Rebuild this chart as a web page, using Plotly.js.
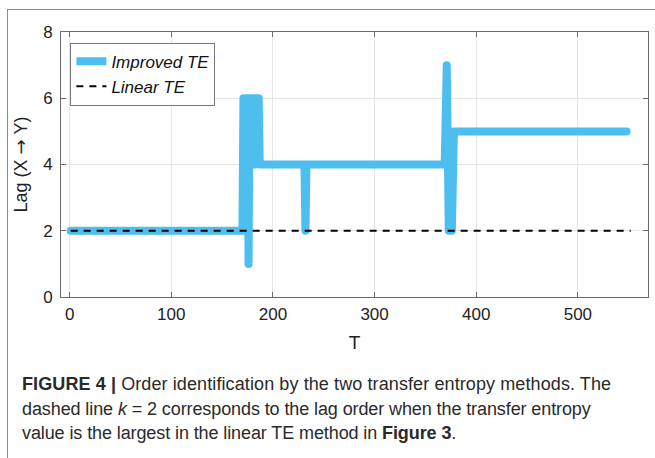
<!DOCTYPE html>
<html>
<head>
<meta charset="utf-8">
<script src="https://cdn.plot.ly/plotly-3.0.1.min.js"></script>
<style>
  html, body { margin: 0; padding: 0; background: #fff; }
  #wrap { position: relative; width: 655px; height: 458px; overflow: hidden; }
  #chart { position: absolute; left: 0; top: 0; width: 655px; height: 458px; }
  #frameTop { position: absolute; left: 7px; top: 9px; width: 648px; height: 0; border-top: 1.5px solid #8a8a8a; }
  #frameLeft { position: absolute; left: 7px; top: 9px; width: 0; height: 449px; border-left: 1.5px solid #8a8a8a; }
  .cap { position: absolute; left: 22px; white-space: nowrap; font-family: "Liberation Sans", Arial, sans-serif; font-size: 18px; color: #2a2a2a; letter-spacing: -0.1px; }
  .cap b { font-weight: bold; }
  #chart .scatterlayer .trace:first-child path.js-line { stroke-linecap: round; stroke-linejoin: round; }
</style>
</head>
<body>
<div id="wrap">
  <div id="chart"></div>
  <div id="frameTop"></div>
  <div id="frameLeft"></div>
  <div class="cap" style="top:374px; letter-spacing: 0.1px;"><b>FIGURE 4 |</b> Order identification by the two transfer entropy methods. The</div>
  <div class="cap" style="top:399px;">dashed line <i>k</i> = 2 corresponds to the lag order when the transfer entropy</div>
  <div class="cap" style="top:423px;">value is the largest in the linear TE method in <b>Figure 3</b>.</div>
</div>
<script>
// Improved TE: lag order vs T (step path)
const improvedT   = [1, 170, 171, 172, 173, 174, 175, 176, 177, 178, 179, 180, 181, 182, 183, 184, 185, 186, 187, 231, 232, 233, 369, 371, 373, 375, 376, 378, 548];
const improvedLag = [2,   2,   6,   2,   6,   2,   6,   1,   6,   4,   6,   4,   6,   6,   4,   6,   6,   6,   4,   4,   2,   4,   4,   7,   2,   5,   2,   5,   5];
// Linear TE: constant lag k = 2
const linearT   = [1, 552];
const linearLag = [2, 2];

const xTicks = [0, 100, 200, 300, 400, 500];
const yTicks = [0, 2, 4, 6, 8];

const font = "Liberation Sans, Arial, sans-serif";

const traces = [
  {
    x: improvedT, y: improvedLag, type: 'scatter', mode: 'lines',
    name: 'Improved TE',
    line: { color: '#4DBEEE', width: 8, shape: 'linear' }
  },
  {
    x: linearT, y: linearLag, type: 'scatter', mode: 'lines',
    name: 'Linear TE',
    line: { color: '#000000', width: 2, dash: '7px,6px' }
  }
];

const axisCommon = {
  showgrid: true, gridcolor: '#e6e6e6', gridwidth: 1,
  zeroline: false, showline: true, linecolor: '#6b6b6b', linewidth: 1,
  mirror: 'ticks', ticks: 'inside', ticklen: 5, tickcolor: '#6b6b6b',
  tickfont: { family: font, size: 17, color: '#222' }
};

const layout = {
  width: 655, height: 458,
  margin: { l: 61, r: 7, t: 32, b: 161 },
  paper_bgcolor: 'rgba(0,0,0,0)', plot_bgcolor: '#fff',
  showlegend: true,
  legend: {
    x: 0.016, y: 0.96, xanchor: 'left', yanchor: 'top',
    bgcolor: '#fff', bordercolor: '#777', borderwidth: 1,
    font: { family: font, size: 17, color: '#111', style: 'italic' },
    itemwidth: 30, tracegroupgap: 0
  },
  xaxis: Object.assign({}, axisCommon, {
    range: [-8.5, 569], tickvals: xTicks, ticktext: xTicks.map(String),
    ticklabelstandoff: 2,
    title: { text: 'T', font: { family: font, size: 19, color: '#222' }, standoff: 12 }
  }),
  yaxis: Object.assign({}, axisCommon, {
    range: [0, 8], tickvals: yTicks, ticktext: yTicks.map(String),
    ticklabelstandoff: 4,
    title: { text: 'Lag (X <span style="font-family:DejaVu Sans">\u2192</span> Y)', font: { family: font, size: 18, color: '#222' }, standoff: 10 }
  })
};

Plotly.newPlot('chart', traces, layout, { displayModeBar: false, staticPlot: true });
</script>
</body>
</html>
